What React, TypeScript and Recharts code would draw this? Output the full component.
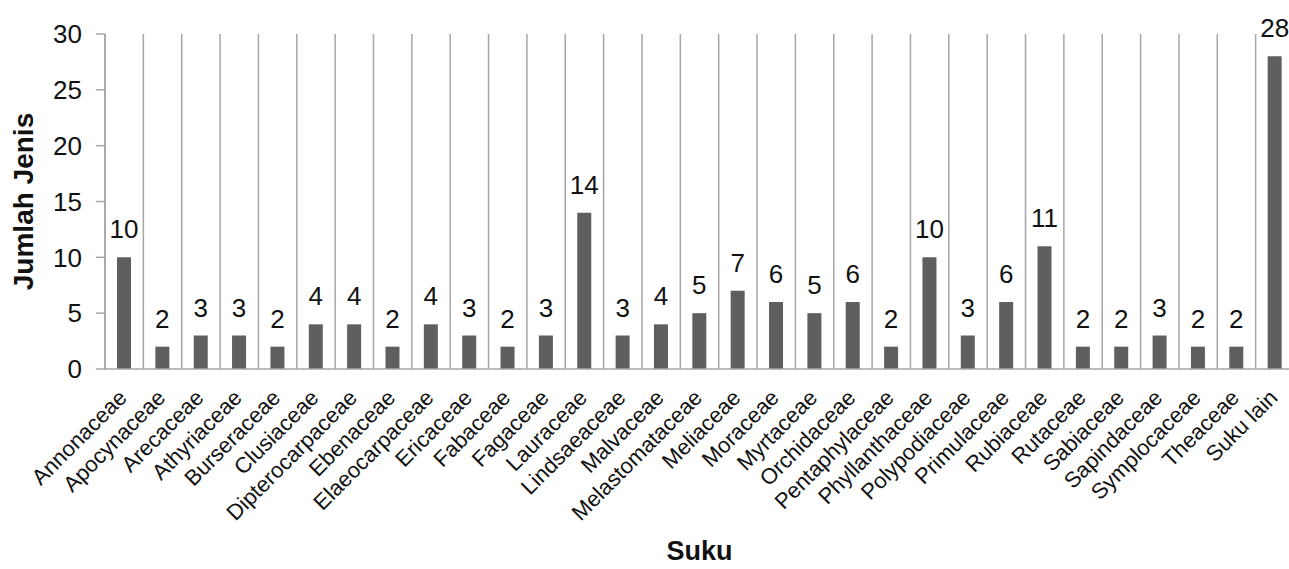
import { BarChart, Bar, XAxis, YAxis, CartesianGrid, LabelList, Label } from 'recharts';

const suku = [
  'Annonaceae', 'Apocynaceae', 'Arecaceae', 'Athyriaceae', 'Burseraceae', 'Clusiaceae',
  'Dipterocarpaceae', 'Ebenaceae', 'Elaeocarpaceae', 'Ericaceae', 'Fabaceae', 'Fagaceae',
  'Lauraceae', 'Lindsaeaceae', 'Malvaceae', 'Melastomataceae', 'Meliaceae', 'Moraceae',
  'Myrtaceae', 'Orchidaceae', 'Pentaphylaceae', 'Phyllanthaceae', 'Polypodiaceae',
  'Primulaceae', 'Rubiaceae', 'Rutaceae', 'Sabiaceae', 'Sapindaceae', 'Symplocaceae',
  'Theaceae', 'Suku lain',
];

const jumlahJenis = [
  10, 2, 3, 3, 2, 4, 4, 2, 4, 3, 2, 3, 14, 3, 4, 5, 7, 6, 5, 6, 2, 10, 3, 6, 11, 2, 2, 3, 2, 2, 28,
];

const yTicks = [0, 5, 10, 15, 20, 25, 30];

const data = suku.map((name, i) => ({ name, value: jumlahJenis[i] }));

const FONT = '"Liberation Sans", Arial, sans-serif';
const GRID = '#a6a6a6';

function SukuTick({ x, y, payload }: any) {
  return (
    <g transform={`translate(${x + 4},${y + 30})`}>
      <text
        x={0}
        y={0}
        textAnchor="end"
        transform="rotate(-45)"
        fontSize={22}
        fontFamily={FONT}
        fill="#111"
      >
        {payload.value}
      </text>
    </g>
  );
}

export default function App() {
  return (
    <div style={{ position: 'absolute', left: 0, top: 0, width: 1289, height: 569, overflow: 'hidden', background: '#fff' }}>
      <BarChart
        width={1300}
        height={569}
        data={data}
        margin={{ top: 34, right: 6, bottom: 0, left: 0 }}
        barCategoryGap={0}
      >
        <CartesianGrid
          horizontal={false}
          stroke={GRID}
          strokeWidth={1.5}
          verticalCoordinatesGenerator={({ offset }: any) =>
            suku.map((_, i) => offset.left + (i * offset.width) / suku.length)
          }
        />
        <XAxis
          dataKey="name"
          interval={0}
          tickLine={false}
          tickSize={0}
          tickMargin={0}
          height={200}
          axisLine={{ stroke: GRID, strokeWidth: 1.5 }}
          tick={<SukuTick />}
        >
          <Label
            content={({ viewBox }: any) => (
              <text
                x={viewBox.x + viewBox.width / 2}
                y={560}
                textAnchor="middle"
                fontSize={27}
                fontWeight="bold"
                fontFamily={FONT}
                fill="#111"
              >
                Suku
              </text>
            )}
          />
        </XAxis>
        <YAxis
          width={105}
          domain={[0, 30]}
          ticks={yTicks}
          interval={0}
          tickSize={9}
          tickMargin={14}
          axisLine={{ stroke: GRID, strokeWidth: 1.5 }}
          tickLine={{ stroke: GRID, strokeWidth: 1.5 }}
          tick={{ fontSize: 26, fontFamily: FONT, fill: '#111' }}
        >
          <Label
            content={({ viewBox }: any) => (
              <text
                x={0}
                y={0}
                transform={`translate(33,${viewBox.y + viewBox.height / 2}) rotate(-90)`}
                textAnchor="middle"
                fontSize={28}
                fontWeight="bold"
                fontFamily={FONT}
                fill="#111"
              >
                Jumlah Jenis
              </text>
            )}
          />
        </YAxis>
        <Bar dataKey="value" fill="#5f5f5f" barSize={14} isAnimationActive={false}>
          <LabelList
            dataKey="value"
            position="top"
            offset={19}
            fontSize={26}
            fontFamily={FONT}
            fill="#111"
          />
        </Bar>
      </BarChart>
    </div>
  );
}
